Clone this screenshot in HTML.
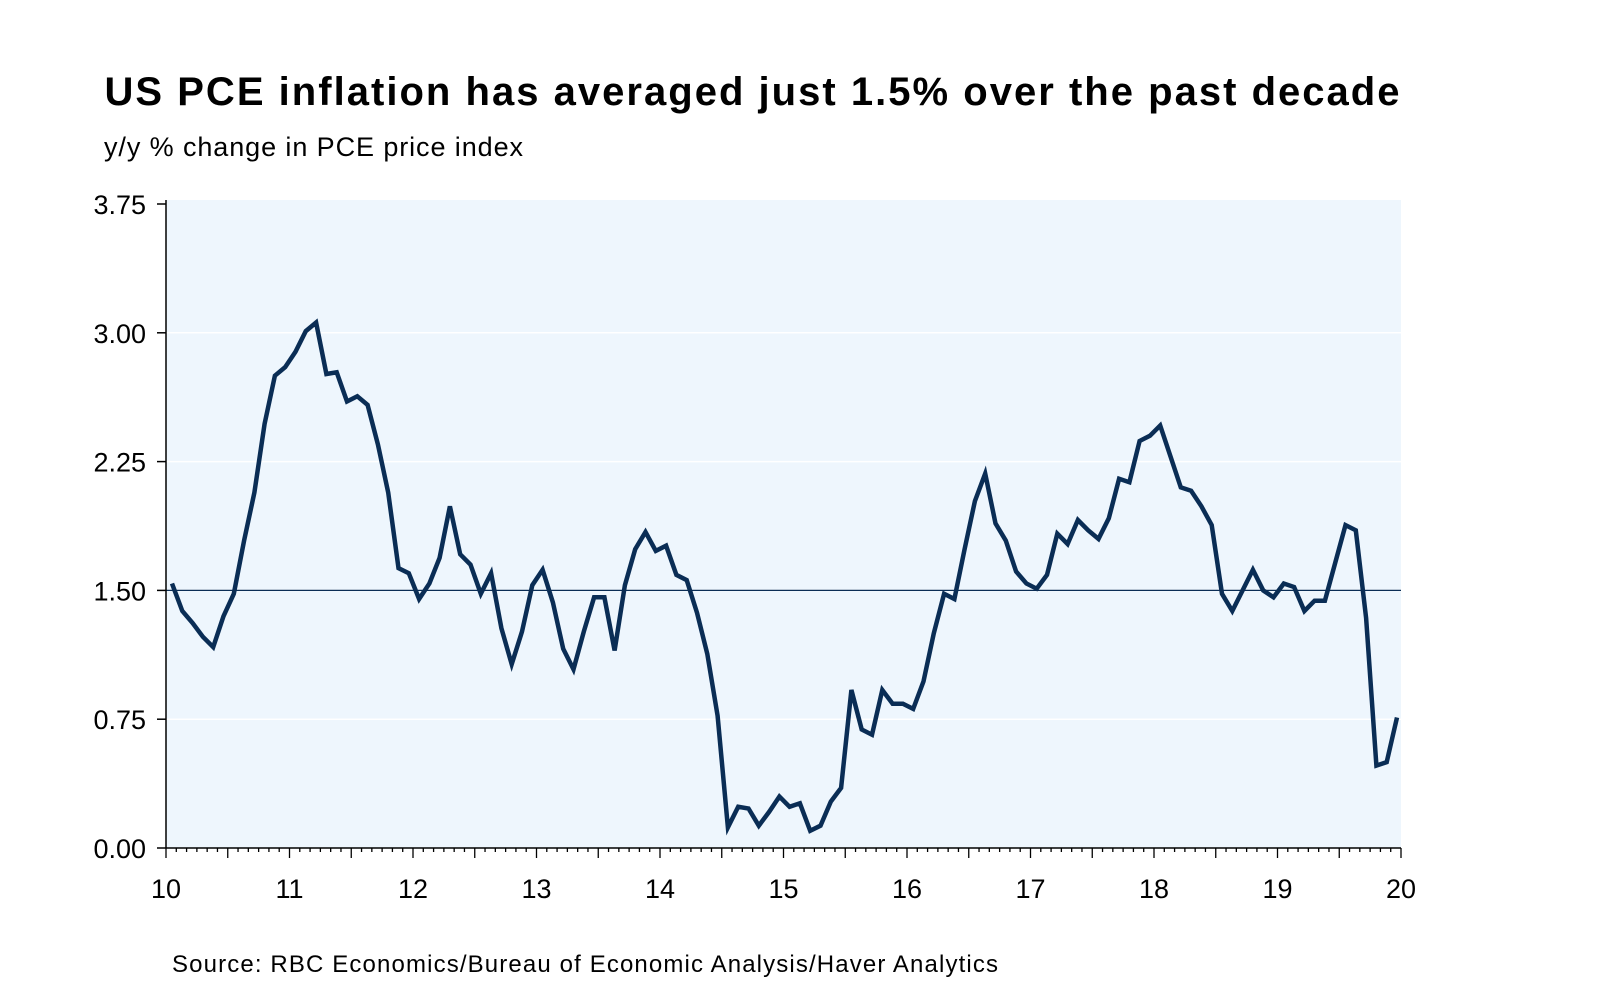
<!DOCTYPE html>
<html><head><meta charset="utf-8">
<style>
body{margin:0;background:#fff;width:1600px;height:1000px;overflow:hidden;font-family:"Liberation Sans",sans-serif;}
</style></head>
<body>
<svg width="1600" height="1000">
<text x="752" y="105" text-anchor="middle" font-size="40" font-weight="bold" fill="#000" textLength="1295">US PCE inflation has averaged just 1.5% over the past decade</text>
<text x="104" y="156" font-size="27" fill="#000" textLength="419">y/y % change in PCE price index</text>
<rect x="166" y="200" width="1235" height="648" fill="#eef6fd"/>
<g id="grid"></g>
<g id="axes"></g>
<path id="line" fill="none" stroke="#0a2d55" stroke-width="4.5" stroke-linejoin="miter"/>
<text x="172" y="972" font-size="24" fill="#000" textLength="826">Source:  RBC Economics/Bureau of Economic Analysis/Haver Analytics</text>
</svg>
<script>
const values=[1.54,1.38,1.31,1.23,1.17,1.35,1.48,1.79,2.07,2.47,2.75,2.80,2.89,3.01,3.06,2.76,2.77,2.60,2.63,2.58,2.35,2.07,1.63,1.60,1.45,1.54,1.69,1.99,1.71,1.65,1.48,1.60,1.28,1.07,1.26,1.53,1.62,1.43,1.16,1.04,
1.26,1.46,1.46,1.15,1.53,1.74,1.84,1.73,1.76,1.59,1.56,1.37,1.13,0.77,0.12,0.24,0.23,0.13,0.21,0.30,0.24,0.26,0.10,0.13,0.27,0.35,0.92,0.69,0.66,0.92,0.84,0.84,0.81,0.97,1.25,1.48,1.45,1.74,2.02,
2.18,1.89,1.79,1.61,1.54,1.51,1.59,1.83,1.77,1.91,1.85,1.80,1.92,2.15,2.13,2.37,2.40,2.46,2.28,2.10,2.08,1.99,1.88,1.48,1.38,1.50,1.62,1.50,1.46,1.54,1.52,1.38,1.44,1.44,1.66,1.88,1.85,1.34,0.48,0.50,0.76];
const yTicks=[0,0.75,1.5,2.25,3.0,3.75];
const yTickLabels=["0.00","0.75","1.50","2.25","3.00","3.75"];
const xLabels=["10","11","12","13","14","15","16","17","18","19","20"];
const refValue=1.5;
const NS="http://www.w3.org/2000/svg";
const X0=166,X1=1401,Y0=848,Y1=204;
const yS=v=>Y0-(v/3.75)*(Y0-Y1);
const yearX=k=>X0+k*(X1-X0)/10;
const idxX=i=>172+i*(1397-172)/(values.length-1);
function mk(t,a,p){const e=document.createElementNS(NS,t);for(const k in a)e.setAttribute(k,a[k]);p.appendChild(e);return e;}
const grid=document.getElementById('grid'),axes=document.getElementById('axes');
yTicks.forEach((v,i)=>{
 if(v>0&&v<3.75){const g=mk('line',{x1:X0,x2:X1,y1:yS(v),y2:yS(v),stroke:'#ffffff','stroke-width':1.5},grid);
 
 }
 const t=mk('line',{x1:X0-9,x2:X0,y1:yS(v),y2:yS(v),stroke:'#000','stroke-width':1.5},axes);
 
 
 const l=mk('text',{x:X0-20,y:yS(v)+10,'text-anchor':'end','font-size':27,fill:'#000'},axes);
 l.textContent=yTickLabels[i];
 
 
});
const ref=mk('line',{x1:X0,x2:X1,y1:yS(refValue),y2:yS(refValue),stroke:'#0a2d55','stroke-width':1.3},grid);


const ya=mk('line',{x1:X0,x2:X0,y1:200,y2:Y0,stroke:'#000','stroke-width':1.5},axes);


const xa=mk('line',{x1:X0,x2:X1,y1:Y0,y2:Y0,stroke:'#000','stroke-width':1.5},axes);


for(let m=0;m<=120;m++){
 const x=X0+m*(X1-X0)/120;const big=m%6===0;
 const t=mk('line',{x1:x,x2:x,y1:Y0,y2:Y0+(big?10:4),stroke:'#000','stroke-width':1.3},axes);
 
 
}
xLabels.forEach((s,k)=>{
 const l=mk('text',{x:yearX(k),y:898,'text-anchor':'middle','font-size':27,fill:'#000'},axes);
 l.textContent=s;
 
 
});
document.getElementById('line').setAttribute('d',values.map((v,i)=>(i?'L':'M')+idxX(i).toFixed(1)+' '+yS(v).toFixed(1)).join(' '));
</script>
</body></html>
